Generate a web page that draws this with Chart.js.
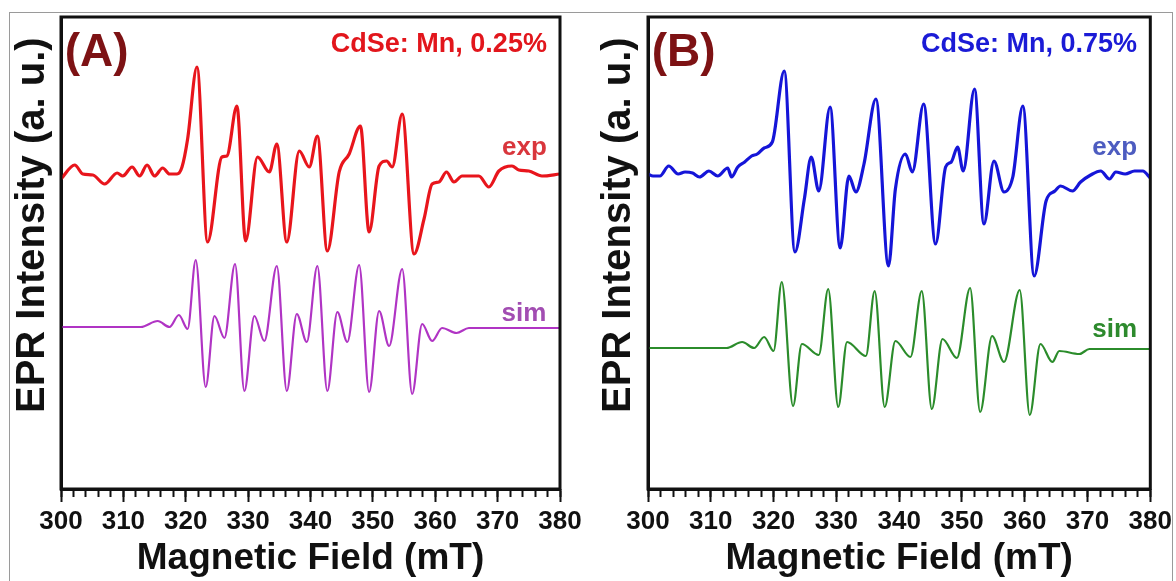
<!DOCTYPE html>
<html>
<head>
<meta charset="utf-8">
<script src="https://cdn.jsdelivr.net/npm/chart.js@4.4.1/dist/chart.umd.min.js"></script>
<style>
  html, body { margin: 0; padding: 0; background: #fff; }
  body { width: 1176px; height: 581px; position: relative; overflow: hidden; }
  #frame { position: absolute; left: 9px; top: 12px; width: 1162px; height: 620px; border: 1px solid #9a9a9a; }
  .panel { position: absolute; top: 0; }
  #panelA { left: 0; }
  #panelB { left: 586px; }
</style>
</head>
<body>
<div id="frame"></div>
<canvas id="panelA" class="panel" width="600" height="581"></canvas>
<canvas id="panelB" class="panel" width="590" height="581"></canvas>
<script>
// Magnetic field (mT) and EPR intensity (a. u.)

// (A) CdSe: Mn 0.25 %
const fieldExpA = [300.0, 302.2, 303.5, 305.1, 307.0, 309.0, 309.9, 311.4, 312.6, 313.8, 315.0, 316.3, 317.4, 318.6, 319.4, 320.3, 321.8, 323.5, 325.8, 326.6, 328.2, 329.6, 331.5, 333.4, 334.6, 336.2, 338.2, 339.8, 341.1, 342.7, 344.6, 346.2, 348.0, 349.4, 351.0, 352.2, 353.1, 354.7, 356.6, 358.2, 359.5, 360.6, 361.8, 363.0, 364.3, 367.0, 368.6, 370.2, 372.3, 373.4, 375.0, 377.1, 380.0];
const expA = [310, 324, 315, 314, 305, 316, 313, 322, 313, 324, 313, 321, 315, 315, 322, 350, 422, 247, 332, 333, 383, 248, 332, 317, 345, 247, 338, 322, 353, 238, 317, 335, 363, 257, 323, 328, 322, 375, 235, 270, 305, 307, 317, 307, 313, 313, 302, 318, 323, 319, 318, 313, 315];

const fieldSimA = [300.0, 312.8, 315.5, 317.4, 318.9, 320.3, 321.6, 323.2, 324.6, 326.2, 327.9, 329.4, 331.0, 332.6, 334.6, 336.2, 337.8, 339.4, 341.1, 342.7, 344.3, 345.9, 347.8, 349.4, 351.0, 352.6, 354.7, 356.3, 357.9, 359.5, 361.1, 363.4, 365.4, 380.0];
const simA = [162, 162, 168, 162, 174, 160, 229, 102, 173, 151, 225, 98, 173, 148, 223, 98, 175, 147, 223, 98, 177, 147, 224, 97, 178, 143, 220, 95, 165, 148, 161, 156, 161, 161];

// (B) CdSe: Mn 0.75 %
const fieldExpB = [300.0, 300.8, 301.9, 303.3, 304.8, 305.9, 307.1, 308.2, 309.7, 311.1, 312.7, 313.3, 314.3, 315.4, 316.5, 317.4, 318.5, 319.8, 321.7, 323.4, 324.9, 326.0, 327.2, 329.0, 330.6, 332.0, 333.1, 334.4, 336.3, 338.3, 339.4, 341.0, 342.1, 343.9, 345.8, 347.4, 348.3, 349.3, 350.2, 352.0, 353.5, 355.1, 356.7, 358.1, 359.7, 361.5, 363.4, 364.8, 365.7, 367.6, 368.9, 370.5, 372.1, 373.5, 374.5, 376.0, 377.5, 378.8, 380.0];
const expB = [315, 313, 313, 323, 315, 317, 316, 312, 318, 313, 321, 312, 322, 327, 333, 335, 341, 347, 418, 237, 290, 332, 298, 382, 241, 313, 297, 325, 390, 223, 300, 335, 317, 385, 245, 322, 327, 342, 318, 400, 265, 328, 297, 312, 383, 213, 288, 298, 303, 298, 307, 314, 318, 310, 317, 315, 318, 318, 311];

const fieldSimB = [300.0, 312.5, 315.0, 316.9, 318.5, 320.0, 321.3, 323.1, 324.5, 327.2, 328.7, 330.3, 331.7, 334.7, 336.1, 337.7, 339.4, 341.8, 343.6, 345.2, 346.9, 349.2, 351.3, 352.9, 354.8, 356.7, 359.2, 360.8, 362.5, 364.4, 365.5, 368.7, 370.3, 380.0];
const simB = [141, 141, 147, 141, 152, 138, 207, 83, 145, 134, 200, 82, 147, 133, 198, 82, 148, 132, 198, 80, 150, 131, 201, 77, 153, 127, 199, 74, 145, 127, 138, 135, 140, 140];

const fieldTicks = { min: 300, max: 380, major: 10, minor: 2 };

const FONT = '"Liberation Sans", Arial, sans-serif';

function pairs(xs, ys) {
  return xs.map((x, i) => ({ x: x, y: ys[i] }));
}

// black box round the plot area
const framePlugin = {
  id: "plotFrame",
  afterDatasetsDraw(chart) {
    const a = chart.chartArea;
    const ctx = chart.ctx;
    ctx.save();
    ctx.strokeStyle = "#111";
    ctx.lineWidth = 3;
    ctx.strokeRect(a.left, a.top, a.right - a.left, a.bottom - a.top);
    ctx.restore();
  }
};

function textPlugin(items) {
  return {
    id: "panelText",
    afterDatasetsDraw(chart) {
      const ctx = chart.ctx;
      const x = chart.scales.x;
      const y = chart.scales.y;
      items.forEach(t => {
        ctx.save();
        ctx.font = "bold " + t.size + "px " + FONT;
        ctx.fillStyle = t.color;
        ctx.textAlign = t.align;
        ctx.textBaseline = "alphabetic";
        ctx.fillText(t.text, x.getPixelForValue(t.x), y.getPixelForValue(t.y));
        ctx.restore();
      });
    }
  };
}

function makePanel(id, p) {
  const ctx = document.querySelector(id).getContext("2d");
  return new Chart(ctx, {
    type: "line",
    data: {
      datasets: [
        {
          label: "exp",
          data: pairs(p.fieldExp, p.exp),
          borderColor: p.expColor,
          borderWidth: 3.2,
          pointRadius: 0,
          cubicInterpolationMode: "monotone",
          fill: false
        },
        {
          label: "sim",
          data: pairs(p.fieldSim, p.sim),
          borderColor: p.simColor,
          borderWidth: 2.2,
          pointRadius: 0,
          cubicInterpolationMode: "monotone",
          fill: false
        }
      ]
    },
    options: {
      responsive: false,
      animation: false,
      parsing: false,
      layout: { padding: { left: 0, right: p.padRight, top: 17, bottom: 0 } },
      plugins: { legend: { display: false }, tooltip: { enabled: false } },
      scales: {
        x: {
          type: "linear",
          position: "bottom",
          min: fieldTicks.min,
          max: fieldTicks.max,
          afterFit: s => { s.height = 92; },
          ticks: {
            stepSize: fieldTicks.major,
            autoSkip: false,
            maxRotation: 0,
            padding: 4,
            color: "#111",
            font: { family: FONT, size: 26, weight: "bold" }
          },
          grid: { drawOnChartArea: false, drawTicks: true, tickLength: 13, tickWidth: 2, tickColor: "#111" },
          border: { display: true, color: "#111", width: 3 },
          title: {
            display: true,
            text: "Magnetic Field (mT)",
            color: "#111",
            padding: { top: 0, bottom: 0 },
            font: { family: FONT, size: 37, weight: "bold" }
          }
        },
        xMinor: {
          axis: "x",
          type: "linear",
          position: { y: 0 },
          min: fieldTicks.min,
          max: fieldTicks.max,
          ticks: { stepSize: fieldTicks.minor, display: false, autoSkip: false },
          grid: { drawOnChartArea: false, drawTicks: true, tickLength: 8, tickWidth: 2, tickColor: "#111" },
          border: { display: false }
        },
        y: {
          min: 0,
          max: 472,
          afterFit: s => { s.width = p.yWidth; },
          ticks: { display: false },
          grid: { display: false },
          border: { display: true, color: "#111", width: 3 },
          title: {
            display: true,
            // leading spaces lift the title a little above the middle of the axis, as in the figure
            text: "\u00a0\u00a0\u00a0\u00a0\u00a0EPR Intensity (a. u.)",
            color: "#111",
            padding: { top: 9, bottom: 0 },
            font: { family: FONT, size: 40, weight: "bold" }
          }
        }
      }
    },
    plugins: [framePlugin, textPlugin(p.texts)]
  });
}

makePanel("#panelA", {
  fieldExp: fieldExpA, exp: expA, fieldSim: fieldSimA, sim: simA,
  expColor: "#e8151c", simColor: "#b034c4",
  yWidth: 61, padRight: 40,
  texts: [
    { text: "(A)", x: 300.6, y: 423, size: 46, color: "#7d1214", align: "left" },
    { text: "CdSe: Mn, 0.25%", x: 377.9, y: 437, size: 27, color: "#e2161c", align: "right" },
    { text: "exp", x: 377.9, y: 334, size: 26, color: "#d9363c", align: "right" },
    { text: "sim", x: 377.8, y: 168, size: 26, color: "#a24db2", align: "right" }
  ]
});

makePanel("#panelB", {
  fieldExp: fieldExpB, exp: expB, fieldSim: fieldSimB, sim: simB,
  expColor: "#1515d8", simColor: "#2b8c2b",
  yWidth: 62, padRight: 23,
  texts: [
    { text: "(B)", x: 300.6, y: 423, size: 46, color: "#7d1214", align: "left" },
    { text: "CdSe: Mn, 0.75%", x: 377.9, y: 437, size: 27, color: "#1b1bd6", align: "right" },
    { text: "exp", x: 377.9, y: 334, size: 26, color: "#4d5cc0", align: "right" },
    { text: "sim", x: 377.9, y: 152, size: 26, color: "#2d8a2d", align: "right" }
  ]
});
</script>
</body>
</html>
